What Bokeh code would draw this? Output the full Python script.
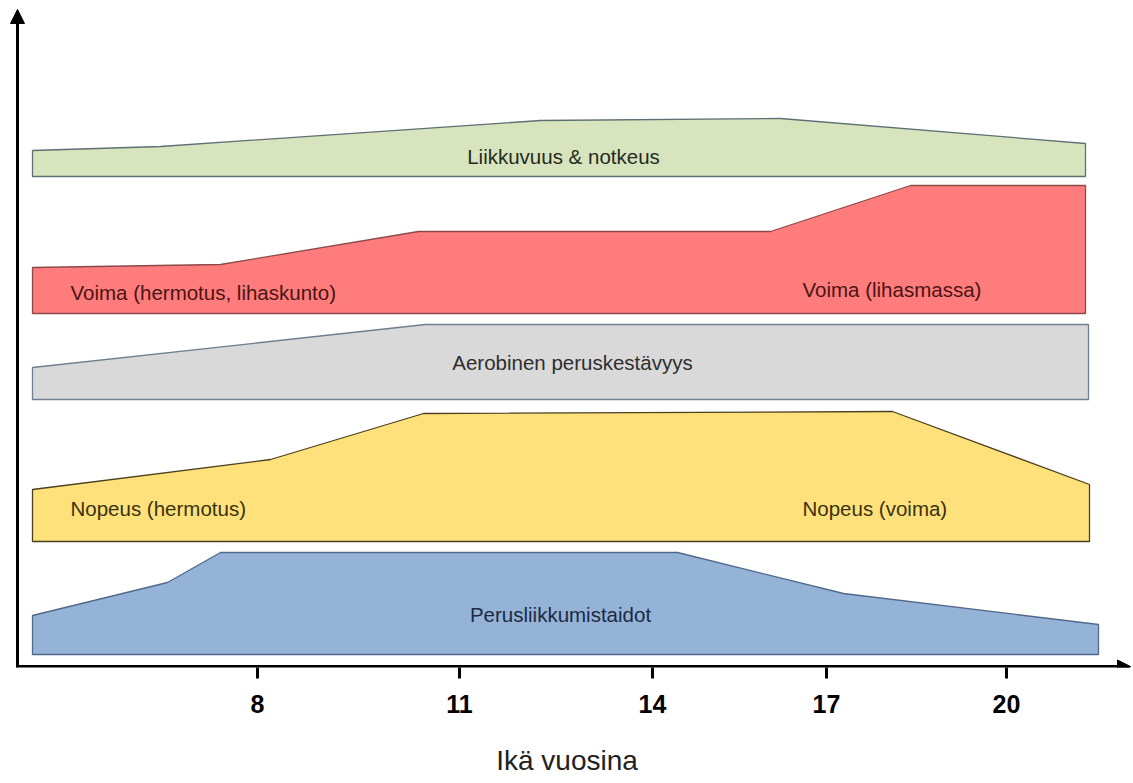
from bokeh.plotting import figure
from bokeh.models import Range1d, FixedTicker, Arrow, NormalHead
from bokeh.core.properties import value
from bokeh.embed import file_html
from bokeh.resources import INLINE

# ---- data (diagram x positions, band heights above the age axis) ----
tick_pos = [257, 459, 652, 826, 1006]
tick_labels = ["8", "11", "14", "17", "20"]

green_x = [32, 160, 540, 780, 1085]
green_top = [516, 520, 546, 548, 523]
green_bottom = 490

red_x = [32, 220, 418, 770, 910, 1085]
red_top = [399, 402, 435, 435, 481, 481]
red_bottom = 353

gray_x = [32, 425, 1088]
gray_top = [299, 342, 342]
gray_bottom = 267

yellow_x = [32, 270, 423, 892, 1089]
yellow_top = [177, 207, 253, 255, 182]
yellow_bottom = 125

blue_x = [32, 167, 220, 677, 843, 1098]
blue_top = [51, 84, 114, 114, 73, 42]
blue_bottom = 12

label_texts = ["Liikkuvuus & notkeus", "Voima (hermotus, lihaskunto)", "Voima (lihasmassa)",
               "Aerobinen peruskestävyys", "Nopeus (hermotus)", "Nopeus (voima)",
               "Perusliikkumistaidot"]
label_x = [563, 70, 802, 572, 70, 802, 560]
label_y = [510, 374, 377, 304, 158, 158, 52]
label_align = ["center", "left", "left", "center", "left", "left", "center"]
label_colors = ["#262b20", "#4a1414", "#4a1414", "#2e2e2e", "#3a3210", "#3a3210", "#1c2a44"]

x_title = "Ikä vuosina"

bands = [
    (green_x, green_top, green_bottom, "#d7e4bd", "#5f6f73"),
    (red_x, red_top, red_bottom, "#ff7c7c", "#8c4a4a"),
    (gray_x, gray_top, gray_bottom, "#d9d9d9", "#6f7f8f"),
    (yellow_x, yellow_top, yellow_bottom, "#ffe17b", "#4a4020"),
    (blue_x, blue_top, blue_bottom, "#95b3d7", "#50698a"),
]

W, H = 1133, 783
p = figure(width=W, height=H, output_backend="svg", toolbar_location=None,
           x_range=Range1d(0, W), y_range=Range1d(-1, 666),
           y_axis_location=None, min_border_left=0, min_border_right=0,
           min_border_top=0, min_border_bottom=116)
p.outline_line_color = None
p.xgrid.visible = False
p.ygrid.visible = False
p.background_fill_color = "white"
p.border_fill_color = "white"

for xs, tops, bottom, fill, edge in bands:
    px = [xs[0]] + list(xs) + [xs[-1]]
    py = [bottom] + list(tops) + [bottom]
    p.patch(px, py, fill_color=fill, line_color=edge, line_width=1.3)

p.text(x=label_x, y=label_y, text=label_texts, text_align=label_align,
       text_baseline="alphabetic", text_color=label_colors,
       text_font=value("Liberation Sans"), text_font_size="20.5px")

ax = p.xaxis[0]
ax.ticker = FixedTicker(ticks=tick_pos)
ax.major_label_overrides = {t: l for t, l in zip(tick_pos, tick_labels)}
ax.axis_line_color = None
ax.major_tick_in = 0
ax.major_tick_out = 11
ax.major_tick_line_width = 3
ax.major_tick_line_color = "black"
ax.minor_tick_line_color = None
ax.major_label_text_font = "Liberation Sans"
ax.major_label_text_font_style = "bold"
ax.major_label_text_font_size = "25px"
ax.major_label_text_color = "black"
ax.major_label_standoff = 16
ax.axis_label = x_title
ax.axis_label_text_font = "Liberation Sans"
ax.axis_label_text_font_style = "normal"
ax.axis_label_text_font_size = "28px"
ax.axis_label_text_color = "#222222"
ax.axis_label_standoff = 29

p.add_layout(Arrow(end=NormalHead(size=14, fill_color="black", line_color="black"),
                   x_start=17, y_start=-1, x_end=17, y_end=657,
                   line_width=3, line_color="black"))
p.add_layout(Arrow(end=NormalHead(size=13, fill_color="black", line_color="black"),
                   x_start=15.5, y_start=0, x_end=1130, y_end=0,
                   line_width=3, line_color="black"))

open("out.html", "w").write(file_html(p, INLINE))
